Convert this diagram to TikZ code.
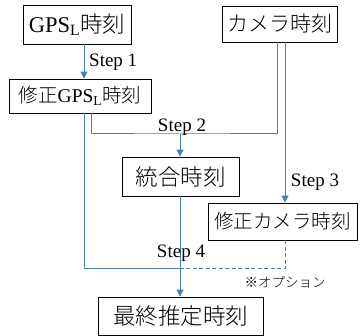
\documentclass[tikz,border=0pt]{standalone}
\usepackage{fontspec}
\setmainfont{Liberation Serif}
\newfontfamily\jp{Noto Sans CJK JP Light}
\usetikzlibrary{arrows.meta}
\definecolor{lineblue}{HTML}{4A7EBB}
\begin{document}
\begin{tikzpicture}[x=1pt,y=-1pt,
  box/.style={draw=black,line width=0.9pt,inner sep=0pt,align=center},
  conn/.style={draw=lineblue,line width=1pt},
  arr/.style={conn,-{Triangle[width=7pt,length=7pt]}},
  lbl/.style={font=\fontsize{19}{21}\selectfont,inner sep=0pt}]
\useasboundingbox (0,0) rectangle (361,336);
% boxes
\node[box,minimum width=108pt,minimum height=39pt] (gps) at (77,24.5) {\fontsize{22.5}{24}\selectfont GPS\textsubscript{L}\jp 時刻};
\node[box,minimum width=115pt,minimum height=36pt] (cam) at (279.5,24) {\fontsize{21}{24}\selectfont\jp カメラ時刻};
\node[box,minimum width=142pt,minimum height=34pt] (mgps) at (80,96) {\fontsize{19.5}{22}\selectfont{\jp 修正}GPS\textsubscript{L}\jp 時刻};
\node[box,minimum width=117pt,minimum height=39pt] (tou) at (180.5,176.5) {\fontsize{22.5}{24}\selectfont\jp 統合時刻};
\node[box,minimum width=149pt,minimum height=37pt] (mcam) at (282.5,221.5) {\fontsize{19.5}{22}\selectfont\jp 修正カメラ時刻};
\node[box,minimum width=165pt,minimum height=38pt] (fin) at (180.5,316) {\fontsize{22.5}{24}\selectfont\jp 最終推定時刻};
% helper coordinates
\coordinate (j2) at (180,134);
\coordinate (j4) at (180,269);
% Step 1
\draw[arr] (gps.south -| 84,0) -- (mgps.north -| 84,0);
% Step 2
\draw[conn] (mgps.south -| 91,0) |- (j2) -| (cam.south -| 277,0);
\draw[arr] (j2) -- (tou.north -| j2);
% Step 3
\draw[arr] (cam.south -| 285,0) -- (mcam.north -| 285,0);
% Step 4
\draw[conn] (mgps.south -| 84,0) |- (j4);
\draw[conn,dashed,dash pattern=on 4pt off 2.5pt] (mcam.south -| 285,0) |- (j4);
\draw[arr] (tou.south -| j4) -- (fin.north -| j4);
% labels
\node[lbl,anchor=west] (s1) at (89,62) {Step 1};
\node[lbl] (s2) at (182,127) {Step 2};
\node[lbl] (s3) at (315,182) {Step 3};
\node[lbl] (s4) at (181,253) {Step 4};
\node[inner sep=0pt,font=\fontsize{13.5}{15}\selectfont\jp] (opt) at (285,282) {※オプション};
\end{tikzpicture}
\end{document}
